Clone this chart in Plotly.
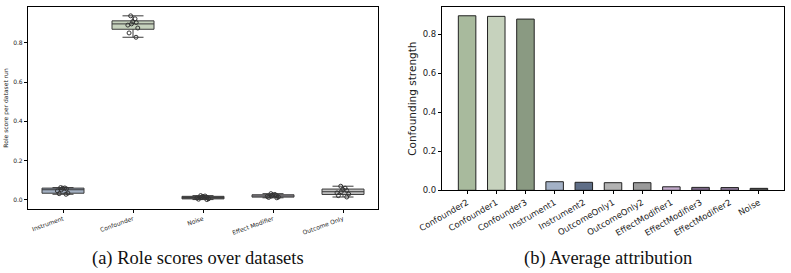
import plotly.graph_objects as go

# ---- Left panel data: role scores per dataset run ----
roles = ["Instrument", "Confounder", "Noise", "Effect Modifier", "Outcome Only"]
instrument_scores = [0.063, 0.061, 0.060, 0.056, 0.052, 0.046, 0.035, 0.032, 0.029]
confounder_scores = [0.937, 0.922, 0.908, 0.903, 0.896, 0.890, 0.875, 0.850, 0.828]
noise_scores = [0.022, 0.020, 0.018, 0.014, 0.012, 0.010, 0.006, 0.004, 0.002]
effect_modifier_scores = [0.032, 0.028, 0.026, 0.022, 0.020, 0.018, 0.015, 0.013, 0.011]
outcome_only_scores = [0.070, 0.060, 0.054, 0.048, 0.042, 0.036, 0.030, 0.022, 0.015]
role_scores = [instrument_scores, confounder_scores, noise_scores,
               effect_modifier_scores, outcome_only_scores]
role_colors = ["#a3b0c2", "#c6d2bd", "#6a6a6a", "#b9b2bd", "#c2c2c2"]

# ---- Right panel data: average attribution ----
features = ["Confounder2", "Confounder1", "Confounder3", "Instrument1", "Instrument2",
            "OutcomeOnly1", "OutcomeOnly2", "EffectModifier1", "EffectModifier3",
            "EffectModifier2", "Noise"]
strength = [0.895, 0.892, 0.878, 0.044, 0.041, 0.039, 0.039, 0.018, 0.015, 0.014, 0.010]
bar_colors = ["#a8ba9d", "#c6d2bd", "#8a9a82", "#a3b1c6", "#5f6e87",
              "#b3b3b3", "#9a9a9a", "#c2aacb", "#7a6686", "#8c7898", "#555555"]

fig = go.Figure()

for name, vals, col in zip(roles, role_scores, role_colors):
    fig.add_trace(go.Box(
        x=[name] * len(vals), y=vals, name=name,
        boxpoints="all", pointpos=0, jitter=0.35,
        marker=dict(symbol="circle-open", size=4, color="#333333",
                    line=dict(width=1)),
        fillcolor=col, line=dict(color="#3a3a3a", width=1),
        whiskerwidth=0.5, width=0.6,
        xaxis="x", yaxis="y", showlegend=False,
    ))

fig.add_trace(go.Bar(
    x=features, y=strength, width=0.6,
    marker=dict(color=bar_colors, line=dict(color="#222222", width=1)),
    xaxis="x2", yaxis="y2", showlegend=False,
))

axis_common = dict(showline=True, linecolor="black", linewidth=1.2, mirror=True,
                   ticks="outside", ticklen=3, tickcolor="black", showgrid=False,
                   zeroline=False, automargin=False)

cap_font = dict(family="Liberation Serif", size=18.5, color="#111111")

fig.update_layout(
    width=791, height=273,
    margin=dict(l=0, r=0, t=0, b=0),
    paper_bgcolor="white", plot_bgcolor="white",
    font=dict(family="DejaVu Sans", color="#222222"),
    xaxis=dict(domain=[28 / 791, 378 / 791], anchor="y", type="category",
               range=[-0.5, 4.5], tickangle=-20, tickfont=dict(size=6),
               **axis_common),
    yaxis=dict(domain=[1 - 209 / 273, 1 - 7 / 273], anchor="x",
               range=[-0.046, 0.982], tickvals=[0, 0.2, 0.4, 0.6, 0.8],
               tickformat=".1f", tickfont=dict(size=6),
               title=dict(text="Role score per dataset run", font=dict(size=6),
                          standoff=4),
               **axis_common),
    xaxis2=dict(domain=[442 / 791, 784 / 791], anchor="y2", type="category",
                range=[-0.86, 10.86], tickangle=-30, tickfont=dict(size=8.5),
                **axis_common),
    yaxis2=dict(domain=[1 - 190.3 / 273, 1 - 7 / 273], anchor="x2",
                range=[0, 0.94], tickvals=[0, 0.2, 0.4, 0.6, 0.8],
                tickformat=".1f", tickfont=dict(size=8.5),
                title=dict(text="Confounding strength", font=dict(size=10.5),
                           standoff=3),
                **axis_common),
    annotations=[
        dict(text="(a) Role scores over datasets", x=198 / 791, y=1 - 258 / 273,
             xref="paper", yref="paper", xanchor="center", yanchor="middle",
             showarrow=False, font=cap_font),
        dict(text="(b) Average attribution", x=608 / 791, y=1 - 258 / 273,
             xref="paper", yref="paper", xanchor="center", yanchor="middle",
             showarrow=False, font=cap_font),
    ],
)

fig.write_html("out.html")
